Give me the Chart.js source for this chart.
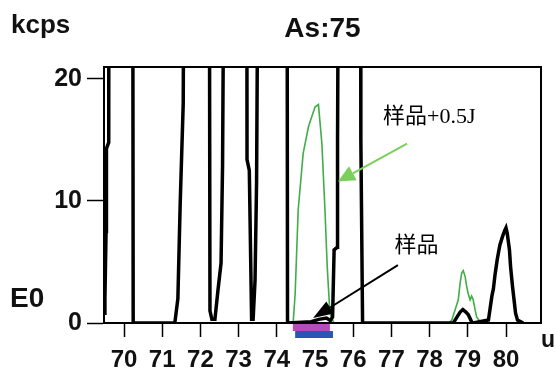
<!DOCTYPE html>
<html>
<head>
<meta charset="utf-8">
<script src="https://cdn.jsdelivr.net/npm/chart.js@4.4.0/dist/chart.umd.min.js"></script>
<style>
  html, body { margin: 0; padding: 0; background: #fff; }
</style>
</head>
<body>
<canvas id="spectrumChart" width="556" height="374"></canvas>
<script>
// 질량 (u) / 강도 (kcps) - 시료
const sampleMass = [69.48, 69.50, 69.53, 69.54, 69.60, 69.61, 70.22, 70.24,
  71.33, 71.41, 71.47, 71.55, 71.60, 72.22, 72.25, 72.30,
  72.38, 72.46, 72.54, 72.58, 72.67, 73.21, 73.22, 73.28, 73.34,
  73.38, 73.43, 73.47, 73.56, 74.26, 74.28,
  74.90, 75.10, 75.30, 75.40, 75.46, 75.50, 75.58, 75.59, 75.65, 76.18, 76.20, 76.245,
  78.62, 78.72, 78.80, 78.87, 78.95, 79.01, 79.10, 79.14,
  79.54, 79.58, 79.63, 79.67, 79.71, 79.77, 79.84, 79.91, 79.97, 80.00, 80.03,
  80.09, 80.12, 80.17, 80.21, 80.25, 80.30, 80.45];
const sampleKcps = [0.8, 2, 7.5, 14.3, 14.8, 60, 60, 0,
  0, 2, 9.7, 18, 60, 60, 1, 0.3,
  0.3, 2.7, 4.9, 13, 60, 60, 13.4, 12.5, 0.3,
  0.3, 3.5, 11.5, 60, 60, 0,
  0.1, 0.3, 0.4, 0.2, 0.5, 6, 6.2, 15, 60, 60, 15, 0,
  0, 0.5, 0.9, 1.1, 0.9, 0.7, 0.1, 0,
  0.25, 1.1, 2.2, 2.8, 3.9, 5.2, 6.4, 7.1, 7.6, 7.8, 7.4,
  6.0, 4.6, 3.0, 1.9, 0.8, 0.25, 0];

// 시료 + 0.5J (다른 구간은 시료와 겹침)
const spikedMass = [74.40, 74.43, 74.48, 74.56, 74.69, 74.83, 75.00, 75.09, 75.18,
  75.26, 75.32, 75.39, 75.48, 75.50, 77.00,
  78.50, 78.58, 78.67, 78.75, 78.80, 78.84, 78.88, 78.93, 78.97, 79.01,
  79.06, 79.10, 79.14, 79.19, 79.23, 79.30, 79.35];
const spikedKcps = [0, 0.1, 2.4, 9.3, 13.9, 16.1, 17.7, 17.9, 14.7,
  9.3, 4.6, 0.8, 0.1, 0, null,
  0, 0.25, 1.1, 1.9, 3.3, 4.1, 4.3, 3.8, 3.0, 2.4,
  1.9, 2.2, 1.9, 1.1, 0.5, 0.2, 0];

const xTickValues = [70, 71, 72, 73, 74, 75, 76, 77, 78, 79, 80];
const yTickValues = [0, 10, 20];
const magentaWindow = [74.42, 75.39];
const blueWindow = [74.48, 75.47];

function toPoints(xs, ys) {
  return xs.map((x, i) => ({ x: x, y: ys[i] }));
}

function drawArrow(ctx, x1, y1, x2, y2, color, width, headLen, headHalf) {
  const ang = Math.atan2(y2 - y1, x2 - x1);
  const bx = x2 - headLen * Math.cos(ang);
  const by = y2 - headLen * Math.sin(ang);
  ctx.strokeStyle = color;
  ctx.lineWidth = width;
  ctx.beginPath();
  ctx.moveTo(x1, y1);
  ctx.lineTo(bx, by);
  ctx.stroke();
  ctx.fillStyle = color;
  ctx.beginPath();
  ctx.moveTo(x2, y2);
  ctx.lineTo(bx + headHalf * Math.sin(ang), by - headHalf * Math.cos(ang));
  ctx.lineTo(bx - headHalf * Math.sin(ang), by + headHalf * Math.cos(ang));
  ctx.closePath();
  ctx.fill();
}

// 테두리, 제목, 주석 그리기
const decorPlugin = {
  id: 'decor',
  afterDraw(chart) {
    const ctx = chart.ctx;
    const area = chart.chartArea;
    const xs = chart.scales.x;
    const ys = chart.scales.y;
    ctx.save();

    ctx.strokeStyle = '#000';
    ctx.lineWidth = 2;
    ctx.strokeRect(area.left, area.top, area.right - area.left, area.bottom - area.top);

    // 적분 구간
    ctx.fillStyle = '#b34db8';
    ctx.fillRect(xs.getPixelForValue(magentaWindow[0]), area.bottom + 1,
      xs.getPixelForValue(magentaWindow[1]) - xs.getPixelForValue(magentaWindow[0]), 7);
    ctx.fillStyle = '#2b55b5';
    ctx.fillRect(xs.getPixelForValue(blueWindow[0]), area.bottom + 8,
      xs.getPixelForValue(blueWindow[1]) - xs.getPixelForValue(blueWindow[0]), 7);

    ctx.fillStyle = '#111';
    ctx.textBaseline = 'alphabetic';
    ctx.textAlign = 'left';
    ctx.font = 'bold 26px "Liberation Sans", Arial, sans-serif';
    ctx.fillText('kcps', 11, 33);
    ctx.font = 'bold 28px "Liberation Sans", Arial, sans-serif';
    ctx.textAlign = 'center';
    ctx.fillText('As:75', (area.left + area.right) / 2, 37);
    ctx.textAlign = 'left';
    ctx.fillText('E0', 10, 307);
    ctx.font = 'bold 23px "Liberation Sans", Arial, sans-serif';
    ctx.fillText('u', 541, 347);

    // 주석
    ctx.fillStyle = '#000';
    ctx.font = '22px "Liberation Serif", "Noto Sans CJK SC", serif';
    ctx.fillText('样品+0.5J', xs.getPixelForValue(76.78), ys.getPixelForValue(16.4));
    ctx.fillText('样品', xs.getPixelForValue(77.08), ys.getPixelForValue(5.8));

    drawArrow(ctx, xs.getPixelForValue(77.41), ys.getPixelForValue(14.7),
      xs.getPixelForValue(75.60), ys.getPixelForValue(11.6), '#7ccf5c', 2, 17, 8);
    drawArrow(ctx, xs.getPixelForValue(77.17), ys.getPixelForValue(4.75),
      xs.getPixelForValue(74.95), ys.getPixelForValue(0.4), '#000', 2, 20, 7);
    ctx.restore();
  }
};

const ctx = document.getElementById('spectrumChart').getContext('2d');
const spectrumChart = new Chart(ctx, {
  type: 'line',
  data: {
    datasets: [
      {
        label: '样品',
        data: toPoints(sampleMass, sampleKcps),
        borderColor: '#000',
        borderWidth: 3.5,
        pointRadius: 0,
        tension: 0,
        clip: 0,
        order: 1
      },
      {
        label: '样品+0.5J',
        data: toPoints(spikedMass, spikedKcps),
        borderColor: '#3fae46',
        borderWidth: 1.6,
        pointRadius: 0,
        tension: 0,
        clip: 0,
        order: 2
      }
    ]
  },
  options: {
    responsive: false,
    animation: false,
    layout: { padding: { top: 67, right: 15, left: 0, bottom: 0 } },
    plugins: {
      legend: { display: false },
      tooltip: { enabled: false }
    },
    scales: {
      x: {
        type: 'linear',
        min: 69.476,
        max: 80.916,
        grid: { drawOnChartArea: false, tickLength: 14, tickColor: '#000', tickWidth: 1.5 },
        border: { display: true, color: '#000', width: 2 },
        ticks: {
          color: '#111',
          padding: 9,
          maxRotation: 0,
          autoSkip: false,
          font: { family: '"Liberation Sans", Arial, sans-serif', size: 24, weight: 'bold' }
        },
        afterBuildTicks: s => { s.ticks = xTickValues.map(v => ({ value: v })); },
        afterFit: s => { s.height = 51; }
      },
      y: {
        min: 0,
        max: 20.98,
        grid: { drawOnChartArea: false, tickLength: 17, tickColor: '#000', tickWidth: 1.5 },
        border: { display: true, color: '#000', width: 2 },
        ticks: {
          color: '#111',
          padding: 5,
          font: { family: '"Liberation Sans", Arial, sans-serif', size: 25, weight: 'bold' }
        },
        afterBuildTicks: s => { s.ticks = yTickValues.map(v => ({ value: v })); },
        afterFit: s => { s.width = 104; }
      }
    }
  },
  plugins: [decorPlugin]
});
</script>
</body>
</html>
